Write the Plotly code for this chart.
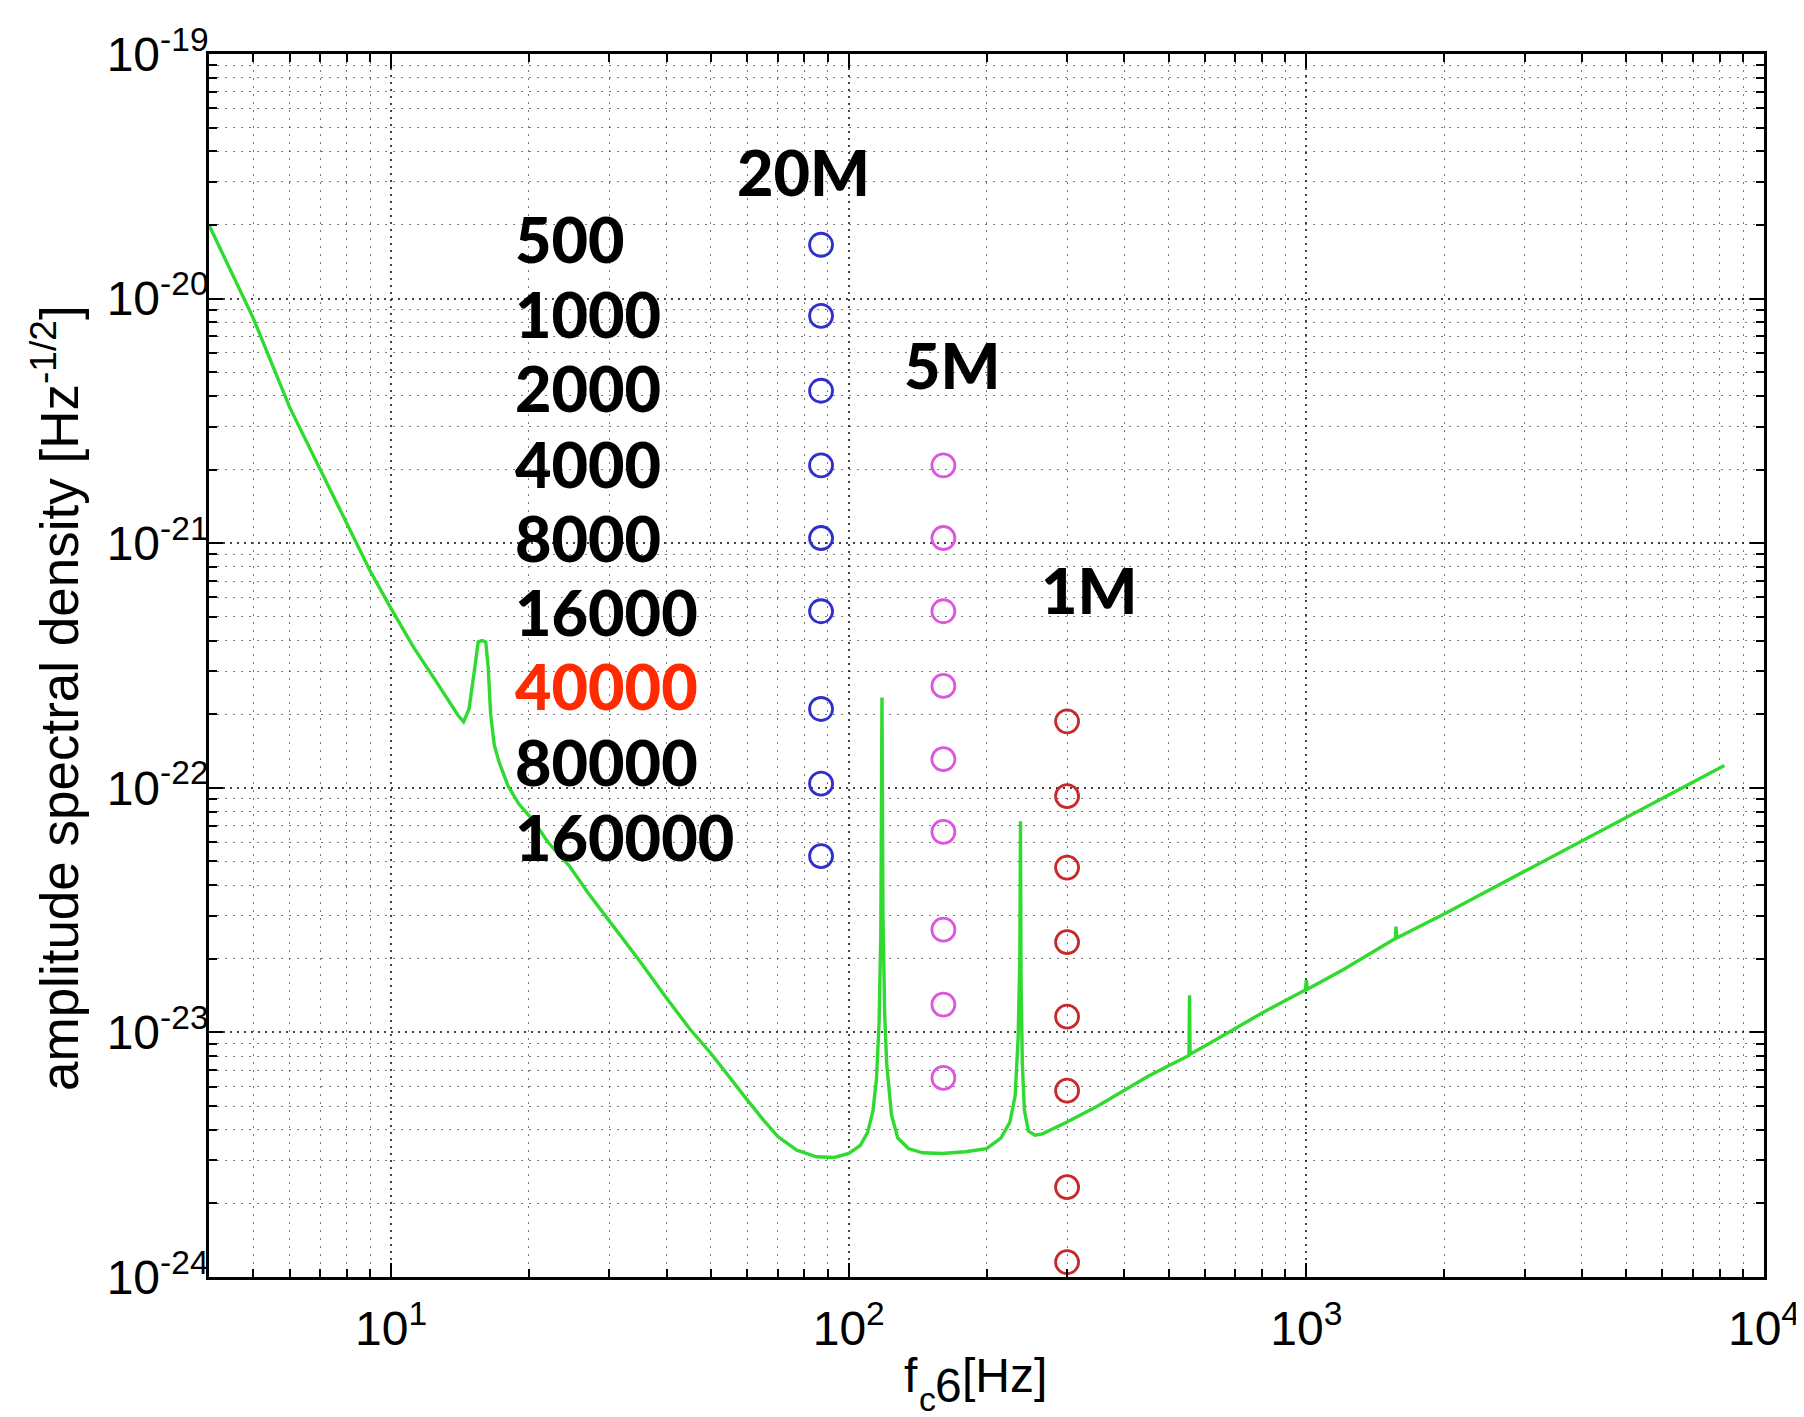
import plotly.graph_objects as go

# ---------------- data ----------------
freq_hz = [4.0, 5.0, 6.0, 7.0, 8.0, 9.0, 10.0, 11.2, 12.5, 13.5, 14.0, 14.4, 14.8, 15.2, 15.5,
           15.8, 16.1, 16.3, 16.5, 16.8, 17.2, 18.0, 19.0, 20.4, 22.0, 24.5, 27.0, 30.0, 35.0,
           40.0, 45.0, 50.0, 55.0, 60.0, 65.0, 70.0, 77.0, 85.0, 93.0, 100.0, 106.0, 110.0,
           113.0, 115.0, 116.5, 117.5, 118.2, 118.8, 119.8, 121.0, 124.0, 128.0, 135.0, 145.0,
           160.0, 180.0, 200.0, 215.0, 225.0, 231.0, 234.5, 236.5, 237.3, 238.0, 239.5, 242.0,
           247.0, 255.0, 265.0, 300.0, 350.0, 400.0, 450.0, 500.0, 550.0, 554.0, 555.5, 557.0,
           600.0, 700.0, 800.0, 900.0, 995.0, 1000.0, 1005.0, 1200.0, 1500.0, 1565.0, 1570.0,
           1575.0, 2000.0, 3000.0, 4000.0, 5000.0, 6000.0, 7000.0, 8192.0]
asd_noise = [2.0e-20, 8.3e-21, 3.6e-21, 2.0e-21, 1.2e-21, 7.7e-22, 5.4e-22, 3.75e-22, 2.75e-22,
             2.2e-22, 1.98e-22, 1.86e-22, 2.1e-22, 3.0e-22, 3.95e-22, 4.0e-22, 3.95e-22, 3.1e-22,
             2.0e-22, 1.5e-22, 1.28e-22, 1.02e-22, 8.6e-23, 7.4e-23, 6.0e-23, 4.8e-23, 3.7e-23,
             2.85e-23, 1.95e-23, 1.38e-23, 1.03e-23, 8.2e-24, 6.5e-24, 5.3e-24, 4.4e-24, 3.75e-24,
             3.3e-24, 3.1e-24, 3.08e-24, 3.2e-24, 3.45e-24, 3.9e-24, 4.8e-24, 6.5e-24, 1.1e-23,
             2.5e-23, 2.34e-22, 3.0e-23, 1.2e-23, 7.5e-24, 4.6e-24, 3.7e-24, 3.35e-24, 3.22e-24,
             3.2e-24, 3.25e-24, 3.35e-24, 3.7e-24, 4.3e-24, 5.5e-24, 9.5e-24, 2.0e-23, 7.3e-23,
             1.6e-23, 7.5e-24, 4.8e-24, 3.95e-24, 3.8e-24, 3.85e-24, 4.3e-24, 5.0e-24, 5.8e-24,
             6.6e-24, 7.3e-24, 8.0e-24, 8.05e-24, 1.42e-23, 8.15e-24, 8.8e-24, 1.04e-23, 1.2e-23,
             1.35e-23, 1.49e-23, 1.64e-23, 1.5e-23, 1.8e-23, 2.3e-23, 2.42e-23, 2.71e-23, 2.43e-23,
             3.05e-23, 4.55e-23, 6.05e-23, 7.55e-23, 9.05e-23, 1.055e-22, 1.235e-22]

# circle series: (frequency, amplitudes)
f_20M = 87.0
asd_20M = [1.66e-20, 8.5e-21, 4.2e-21, 2.08e-21, 1.05e-21, 5.27e-22, 2.1e-22, 1.04e-22, 5.26e-23]
f_5M = 161.0
asd_5M = [2.08e-21, 1.05e-21, 5.27e-22, 2.61e-22, 1.31e-22, 6.61e-23, 2.63e-23, 1.30e-23, 6.52e-24]
f_1M = 300.0
asd_1M = [1.87e-22, 9.24e-23, 4.72e-23, 2.34e-23, 1.16e-23, 5.78e-24, 2.33e-24, 1.15e-24]

mass_labels = ["20M", "5M", "1M"]
count_labels = ["500", "1000", "2000", "4000", "8000", "16000", "40000", "80000", "160000"]
highlight_label = "40000"

x_tick_vals = [10, 100, 1000, 10000]
x_tick_text = ["10<sup>1</sup>", "10<sup>2</sup>", "10<sup>3</sup>", "10<sup>4</sup>"]
y_tick_vals = [1e-24, 1e-23, 1e-22, 1e-21, 1e-20, 1e-19]
y_tick_text = ["10<sup>-24</sup>", "10<sup>-23</sup>", "10<sup>-22</sup>",
               "10<sup>-21</sup>", "10<sup>-20</sup>", "10<sup>-19</sup>"]

# ---------------- layout geometry (pixels) ----------------
W, H = 1804, 1417
ML, MR, MT, MB = 201, 48, 46, 148
PW, PH = W - ML - MR, H - MT - MB


def px(xp, yp):
    """pixel position in the page -> paper coordinates"""
    return (xp - ML) / PW, (H - MB - yp) / PH


# ---------------- figure ----------------
fig = go.Figure()
fig.add_trace(go.Scatter(x=freq_hz, y=asd_noise, mode="lines",
                         line=dict(color="#30da30", width=3.4), showlegend=False))

for fx, vals, col in [(f_20M, asd_20M, "#2f2fcc"), (f_5M, asd_5M, "#de55de"), (f_1M, asd_1M, "#c82a2a")]:
    fig.add_trace(go.Scatter(x=[fx] * len(vals), y=vals, mode="markers", cliponaxis=False,
                             marker=dict(symbol="circle-open", size=23, color=col,
                                         line=dict(width=2.8, color=col)),
                             showlegend=False))

minor_x = [m * 10 ** e for e in range(0, 4) for m in range(2, 10) if 4 <= m * 10 ** e <= 10000]
minor_y = [m * 10.0 ** e for e in range(-24, -19) for m in range(2, 10)]

grid_major = dict(showgrid=True, gridcolor="rgba(20,20,20,0.8)", gridwidth=1.7, griddash="2px,5px")
grid_minor_col = "rgba(50,50,50,0.65)"

axis_common = dict(type="log", showline=True, linecolor="black", linewidth=2.6, mirror="allticks",
                   ticks="inside", ticklen=14, tickwidth=2, tickcolor="black",
                   tickfont=dict(family="Liberation Sans, Arial, sans-serif", size=48, color="black"),
                   zeroline=False, **grid_major)

fig.update_xaxes(range=[0.60206, 4.0], tickmode="array", tickvals=x_tick_vals, ticktext=x_tick_text,
                 ticklabelstandoff=8,
                 minor=dict(tickmode="array", tickvals=minor_x, ticks="inside", ticklen=8,
                            tickwidth=1.6, tickcolor="black", showgrid=True, gridcolor=grid_minor_col,
                            gridwidth=1.4, griddash="2px,6px"),
                 **axis_common)
fig.update_yaxes(range=[-24, -19], tickmode="array", tickvals=y_tick_vals, ticktext=y_tick_text,
                 ticklabelstandoff=-12,
                 minor=dict(tickmode="array", tickvals=minor_y, ticks="inside", ticklen=8,
                            tickwidth=1.6, tickcolor="black", showgrid=True, gridcolor=grid_minor_col,
                            gridwidth=1.4, griddash="2px,6px"),
                 **axis_common)

annotations = []
label_font = dict(family="Lato, 'Open Sans', sans-serif", size=63, color="black", weight=900)
count_px_x = 505
count_px_y = [231, 305, 380, 455, 529, 603, 678, 753, 828]
for lab, yp in zip(count_labels, count_px_y):
    f = dict(label_font)
    if lab == highlight_label:
        f["color"] = "#ff2a00"
    ax, ay = px(count_px_x, yp)
    annotations.append(dict(text=lab, x=ax, y=ay, xref="paper", yref="paper",
                            xanchor="left", yanchor="middle", showarrow=False, font=f))
for lab, (xp, yp) in zip(mass_labels, [(795, 163), (944, 356), (1081, 581)]):
    ax, ay = px(xp, yp)
    annotations.append(dict(text=lab, x=ax, y=ay, xref="paper", yref="paper",
                            xanchor="center", yanchor="middle", showarrow=False, font=label_font))

title_font = dict(family="Liberation Sans, Arial, sans-serif", size=53, color="black")
ax, ay = px(47, 690)
annotations.append(dict(text="amplitude spectral density [Hz<sup>-1/2</sup>]", textangle=-90,
                        x=ax, y=ay, xref="paper", yref="paper", xanchor="center",
                        yanchor="middle", showarrow=False, font=title_font))

# x-axis title "f_c6[Hz]" assembled from pieces (the 6 sits slightly low, as in the original)
xt_font = dict(family="Liberation Sans, Arial, sans-serif", size=48, color="black")
xt_sub = dict(family="Liberation Sans, Arial, sans-serif", size=34, color="black")
for txt, (xp, yp), fnt in [("f", (903, 1367), xt_font), ("c", (919, 1391), xt_sub),
                           ("6", (940, 1377), xt_font), ("[Hz]", (996, 1367), xt_font)]:
    ax, ay = px(xp, yp)
    annotations.append(dict(text=txt, x=ax, y=ay, xref="paper", yref="paper", xanchor="center",
                            yanchor="middle", showarrow=False, font=fnt))

fig.update_layout(width=W, height=H, margin=dict(l=ML, r=MR, t=MT, b=MB),
                  paper_bgcolor="white", plot_bgcolor="white", annotations=annotations,
                  showlegend=False)

fig.write_html("out.html")
